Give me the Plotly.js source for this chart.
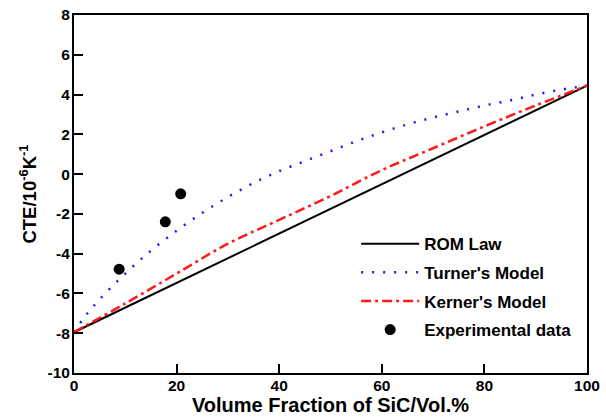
<!DOCTYPE html>
<html><head><meta charset="utf-8">
<script src="https://cdn.plot.ly/plotly-3.0.1.min.js"></script>
<style>html,body{margin:0;padding:0;background:#fff}#chart{width:606px;height:419px}</style>
</head><body><div id="chart"></div>
<script>
const romX = [0, 100];
const romY = [-7.95, 4.45];
const turnerX = [0, 2, 5, 10, 15, 20, 25, 30, 35, 40, 45, 50, 55, 60, 65, 70, 75, 80, 85, 90, 95, 100];
const turnerY = [-7.95, -7.2, -6.3, -5.0, -3.85, -2.85, -1.95, -1.15, -0.45, 0.15, 0.65, 1.15, 1.65, 2.1, 2.5, 2.85, 3.15, 3.45, 3.7, 4.0, 4.25, 4.45];
const kernerX = [0, 10, 20, 30, 40, 50, 60, 70, 80, 90, 100];
const kernerY = [-7.95, -6.5, -5.0, -3.5, -2.3, -1.1, 0.2, 1.3, 2.4, 3.45, 4.45];
const expX = [8.8, 17.8, 20.8];
const expY = [-4.78, -2.4, -0.99];
const xTicks = [0, 20, 40, 60, 80, 100];
const yTicks = [-10, -8, -6, -4, -2, 0, 2, 4, 6, 8];

const F = '"Liberation Sans", Arial, sans-serif';
const bold = v => '<b>' + v + '</b>';
const traces = [
  {x: romX, y: romY, mode: 'lines', name: bold('ROM Law'), legendgroup: 'a', line: {color: '#000', width: 2}},
  {x: turnerX, y: turnerY, mode: 'lines', name: bold("Turner's Model"), legendgroup: 'b', line: {color: '#1a1aff', width: 2.5, dash: '2px,9px', shape: 'spline'}},
  {x: kernerX, y: kernerY, mode: 'lines', name: bold("Kerner's Model"), legendgroup: 'c', line: {color: '#ff1a1a', width: 2.5, dash: '10px,4px,3px,4px', shape: 'spline'}},
  {x: expX, y: expY, mode: 'markers', name: bold('Experimental data'), legendgroup: 'd', marker: {color: '#000', size: 11}}
];
const axisCommon = {
  showline: true, linecolor: '#000', linewidth: 2, mirror: true,
  ticks: 'inside', ticklen: 9, tickwidth: 2, tickcolor: '#000',
  showgrid: false, zeroline: false,
  tickfont: {family: F, size: 15.5, color: '#000'}
};
const layout = {
  width: 606, height: 419,
  margin: {l: 74, r: 19, t: 15, b: 46},
  paper_bgcolor: '#fff', plot_bgcolor: '#fff',
  showlegend: true,
  legend: {x: 0.55, y: 0.41, xanchor: 'left', yanchor: 'top', bgcolor: 'rgba(0,0,0,0)',
    font: {family: F, size: 17, color: '#000'}, itemwidth: 58, tracegroupgap: 3.5, traceorder: 'grouped'},
  xaxis: Object.assign({}, axisCommon, {range: [0, 100], tickvals: xTicks, ticktext: xTicks.map(bold), ticklabelstandoff: -3,
    title: {text: bold('Volume Fraction of SiC/Vol.%'), font: {family: F, size: 20, color: '#000'}, standoff: 2}}),
  yaxis: Object.assign({}, axisCommon, {range: [-10, 8], tickvals: yTicks, ticktext: yTicks.map(bold), ticklabelstandoff: -1,
    title: {text: bold('CTE/10<sup>-6</sup>K<sup>-1</sup>'), font: {family: F, size: 18.5, color: '#000'}, standoff: 6}})
};
Plotly.newPlot('chart', traces, layout, {displayModeBar: false, staticPlot: true});
</script></body></html>
